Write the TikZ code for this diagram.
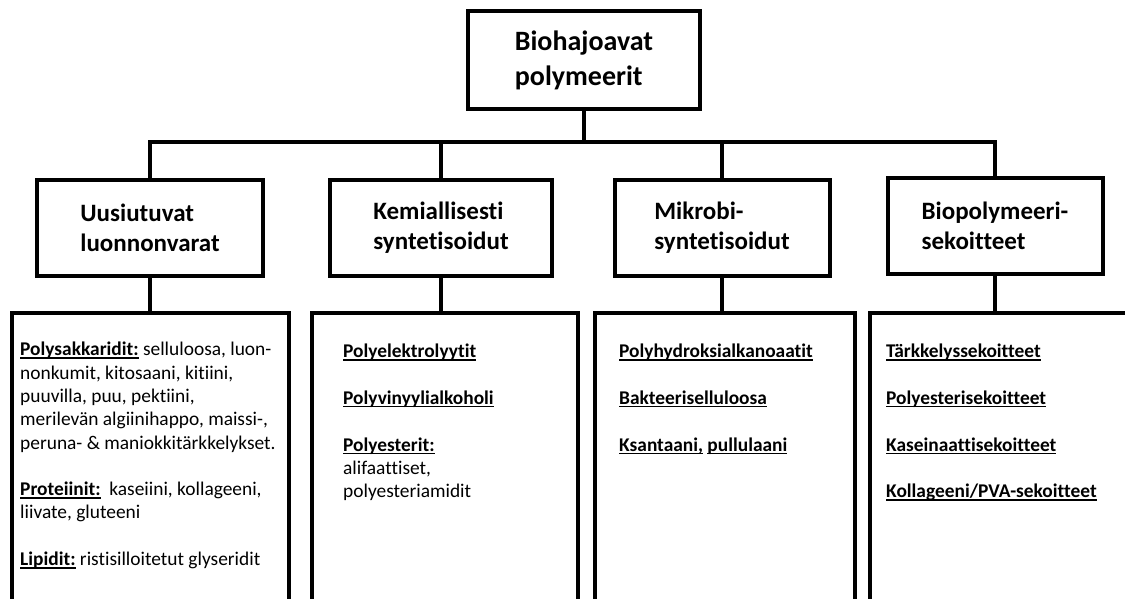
\documentclass[tikz,border=0pt]{standalone}
\usepackage{fontspec}
\setmainfont[Ligatures={NoCommon}]{Carlito}
\usetikzlibrary{positioning}

% alleviivaus, joka ei välitä alaosista
\newcommand{\alle}[1]{\sbox0{#1}\rlap{\rule[-3pt]{\wd0}{1.4pt}}\usebox0}

\tikzset{
  otsikko/.style={draw, line width=4pt, inner sep=0pt, align=left,
    font=\bfseries\fontsize{28}{35}\selectfont,
    minimum width=232pt, minimum height=98pt},
  ryhma/.style={draw, line width=4pt, inner sep=0pt, align=left,
    font=\bfseries\fontsize{25}{30}\selectfont, minimum height=96pt},
  lista/.style={draw, line width=4pt, minimum height=330pt, anchor=north},
  listateksti/.style={anchor=north west, inner sep=0pt, align=left,
    font=\fontsize{19.4}{23.3}\selectfont},
  yhteys/.style={line width=3.5pt}
}

\begin{document}
\begin{tikzpicture}[x=1pt, y=-1pt]
    \useasboundingbox (0,0) rectangle (1125,598);
    \clip (0,0) rectangle (1125,598);

    % Otsikko
    \node[otsikko] (juuri) at (584,60) {Biohajoavat\\polymeerit};

    % Ryhmat
    \node[ryhma, minimum width=226pt] (uusi) at (150,228)
    {Uusiutuvat\\luonnonvarat};
    \node[ryhma, minimum width=222pt] (kemia) at (441,228)
    {Kemiallisesti\\syntetisoidut};
    \node[ryhma, minimum width=215pt] (mikro) at (722,228)
    {Mikrobi-\\syntetisoidut};
    \node[ryhma, minimum width=215pt] (seos) at (995,226)
    {Biopolymeeri-\\sekoitteet};

    % Haarat
    \coordinate (haara) at (584,142);
    \draw[yhteys] (juuri) -- (haara);
    \draw[yhteys] (uusi.north) -- (uusi.north |- haara) -| (seos.north);
    \foreach \n in {kemia, mikro} {
      \draw[yhteys] (\n.north) -- (\n.north |- haara);
    }

    % Listat
    \node[lista, minimum width=277pt] (lista-uusi) at (150,311) {};
    \node[lista, minimum width=266pt] (lista-kemia) at (445,311) {};
    \node[lista, minimum width=260pt] (lista-mikro) at (725,311) {};
    \node[lista, minimum width=258pt] (lista-seos) at (999,311) {};
    \foreach \n in {uusi, kemia, mikro, seos} {
      \draw[yhteys] (\n.south) -- (\n.south |- lista-\n.north);
    }

    % Listojen tekstit
    \node[listateksti] (teksti-uusi) at (20,342)
    {\alle{\textbf{Polysakkaridit:}} selluloosa, luon-\\
     nonkumit, kitosaani, kitiini,\\
     puuvilla, puu, pektiini,\\
     merilevän algiinihappo, maissi-,\\
     peruna- \& maniokkitärkkelykset.\\[23.3pt]
     \alle{\textbf{Proteiinit:}} \ kaseiini, kollageeni,\\
     liivate, gluteeni\\[23.3pt]
     \alle{\textbf{Lipidit:}} ristisilloitetut glyseridit};
    \node[listateksti] (teksti-kemia) at (343,344)
    {\alle{\textbf{Polyelektrolyytit}}\\[23.3pt]
     \alle{\textbf{Polyvinyylialkoholi}}\\[23.3pt]
     \alle{\textbf{Polyesterit:}}\\
     alifaattiset,\\
     polyesteriamidit};
    \node[listateksti] (teksti-mikro) at (619,344)
    {\alle{\textbf{Polyhydroksialkanoaatit}}\\[23.3pt]
     \alle{\textbf{Bakteeriselluloosa}}\\[23.3pt]
     \alle{\textbf{Ksantaani,}} \alle{\textbf{pullulaani}}};
    \node[listateksti] (teksti-seos) at (886,344)
    {\alle{\textbf{Tärkkelyssekoitteet}}\\[23.3pt]
     \alle{\textbf{Polyesterisekoitteet}}\\[23.3pt]
     \alle{\textbf{Kaseinaattisekoitteet}}\\[23.3pt]
     \alle{\textbf{Kollageeni/PVA-sekoitteet}}};
  \end{tikzpicture}
\end{document}
